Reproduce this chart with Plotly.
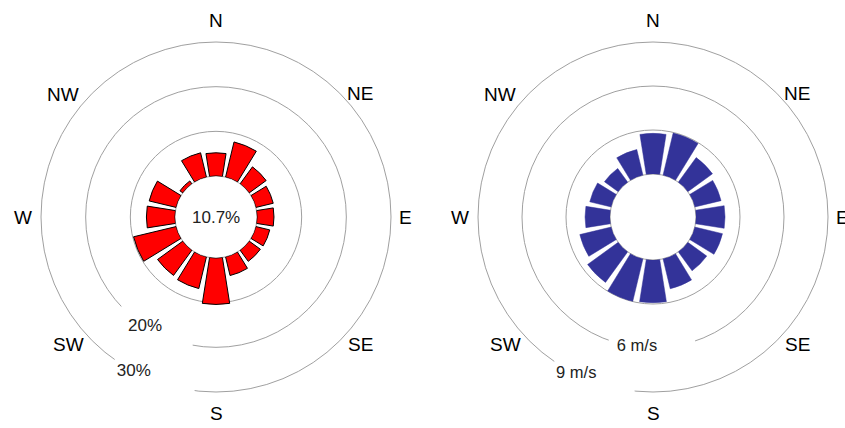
import math
import plotly.graph_objects as go

# ---- data ----
directions = [0, 22.5, 45, 67.5, 90, 112.5, 135, 157.5,
              180, 202.5, 225, 247.5, 270, 292.5, 315, 337.5]
freq_pct = [5.2, 8.1, 4.7, 4.0, 3.8, 3.2, 3.1, 4.3,
            10.4, 7.3, 7.0, 9.8, 6.4, 6.2, 0.8, 5.6]
mean_ws = [2.77, 2.95, 2.08, 1.84, 1.98, 1.94, 1.60, 2.10,
           2.91, 2.98, 2.58, 2.20, 1.70, 1.50, 1.16, 1.80]
calm_label = "10.7%"
compass_text = ["N", "NE", "E", "SE", "S", "SW", "W", "NW"]
left_rings = [10, 20, 30]
left_ring_labels = ["20%", "30%"]
left_label_r = [20, 30]
right_rings = [3, 6, 9]
right_ring_labels = ["6 m/s", "9 m/s"]
right_label_r = [6, 9]

# ---- style ----
W, H = 845, 428
GRID = "#a0a0a0"
FONT = "Liberation Sans, Arial, sans-serif"
compass_theta = [0, 49.5, 90, 131.5, 180, 229, 270, 308.5]
compass_dist_px = [197, 190, 189, 193, 196, 195, 193, 196]
left_label_theta = [213, 208]
right_label_theta = [187, 206]
left_mask = [(193, 223), (189, 214)]
right_mask = [(164, 198), (188, 214)]
CENTERS = [(216, 217), (653, 217)]
RADIUS_PX = 175


def px_domain(cx, cy, r):
    return dict(x=[(cx - r) / W, (cx + r) / W],
                y=[1 - (cy + r) / H, 1 - (cy - r) / H])


dom_l = px_domain(*CENTERS[0], RADIUS_PX)
dom_r = px_domain(*CENTERS[1], RADIUS_PX)

fig = go.Figure()

fig.add_trace(go.Barpolar(
    r=freq_pct, theta=directions, width=18, subplot="polar",
    marker=dict(color="#ff0000", line=dict(color="black", width=1)),
    showlegend=False, hoverinfo="skip"))

fig.add_trace(go.Barpolar(
    r=mean_ws, theta=directions, width=18, subplot="polar2",
    marker=dict(color="#333399", line=dict(color="#333399", width=0.5)),
    showlegend=False, hoverinfo="skip"))


def add_masks(sub, radii, ranges):
    rr, tt = [], []
    for rv, (a, b) in zip(radii, ranges):
        for t in range(a, b + 1, 3):
            rr.append(rv)
            tt.append(t)
    fig.add_trace(go.Scatterpolar(
        r=rr, theta=tt, mode="markers", subplot=sub, cliponaxis=False,
        marker=dict(symbol="square", size=12, color="white"),
        showlegend=False, hoverinfo="skip"))


def add_text(sub, r, theta, text, size, color):
    fig.add_trace(go.Scatterpolar(
        r=r, theta=theta, text=text, mode="text", subplot=sub,
        cliponaxis=False, textposition="middle center",
        textfont=dict(size=size, color=color, family=FONT),
        showlegend=False, hoverinfo="skip"))


add_masks("polar", left_label_r, left_mask)
add_masks("polar2", right_label_r, right_mask)

add_text("polar", left_label_r, left_label_theta, left_ring_labels, 17, "#222")
add_text("polar2", right_label_r, right_label_theta, right_ring_labels, 16.5, "#222")


def polar_cfg(dom, rng, rings, hole):
    return dict(
        domain=dom, hole=hole, bgcolor="white",
        radialaxis=dict(range=rng, tickvals=rings[:-1], showticklabels=False,
                        showline=False, ticks="", gridcolor=GRID,
                        gridwidth=1, layer="below traces"),
        angularaxis=dict(rotation=90, direction="clockwise",
                         showticklabels=False, ticks="",
                         showgrid=False, showline=True, linecolor=GRID,
                         linewidth=1, layer="below traces"),
    )


annotations = [dict(
    x=sum(dom_l["x"]) / 2, y=sum(dom_l["y"]) / 2, xref="paper",
    yref="paper", xanchor="center", yanchor="middle",
    text=calm_label, showarrow=False,
    font=dict(size=17, color="#222", family=FONT))]

# compass labels just outside each rose's outer ring
for cx, cy in CENTERS:
    for txt, th, d in zip(compass_text, compass_theta, compass_dist_px):
        x = cx + d * math.sin(math.radians(th))
        y = cy - d * math.cos(math.radians(th))
        annotations.append(dict(
            x=x / W, y=1 - y / H, xref="paper", yref="paper",
            xanchor="center", yanchor="middle", text=txt, showarrow=False,
            font=dict(size=19, color="black", family=FONT)))

fig.update_layout(
    width=W, height=H, margin=dict(l=0, r=0, t=0, b=0),
    paper_bgcolor="white", plot_bgcolor="white",
    font=dict(family=FONT),
    polar=polar_cfg(dom_l, [0, left_rings[-1]], left_rings, 41 / 175),
    polar2=polar_cfg(dom_r, [0, right_rings[-1]], right_rings, 43 / 175),
    annotations=annotations,
)

fig.write_html("out.html")
